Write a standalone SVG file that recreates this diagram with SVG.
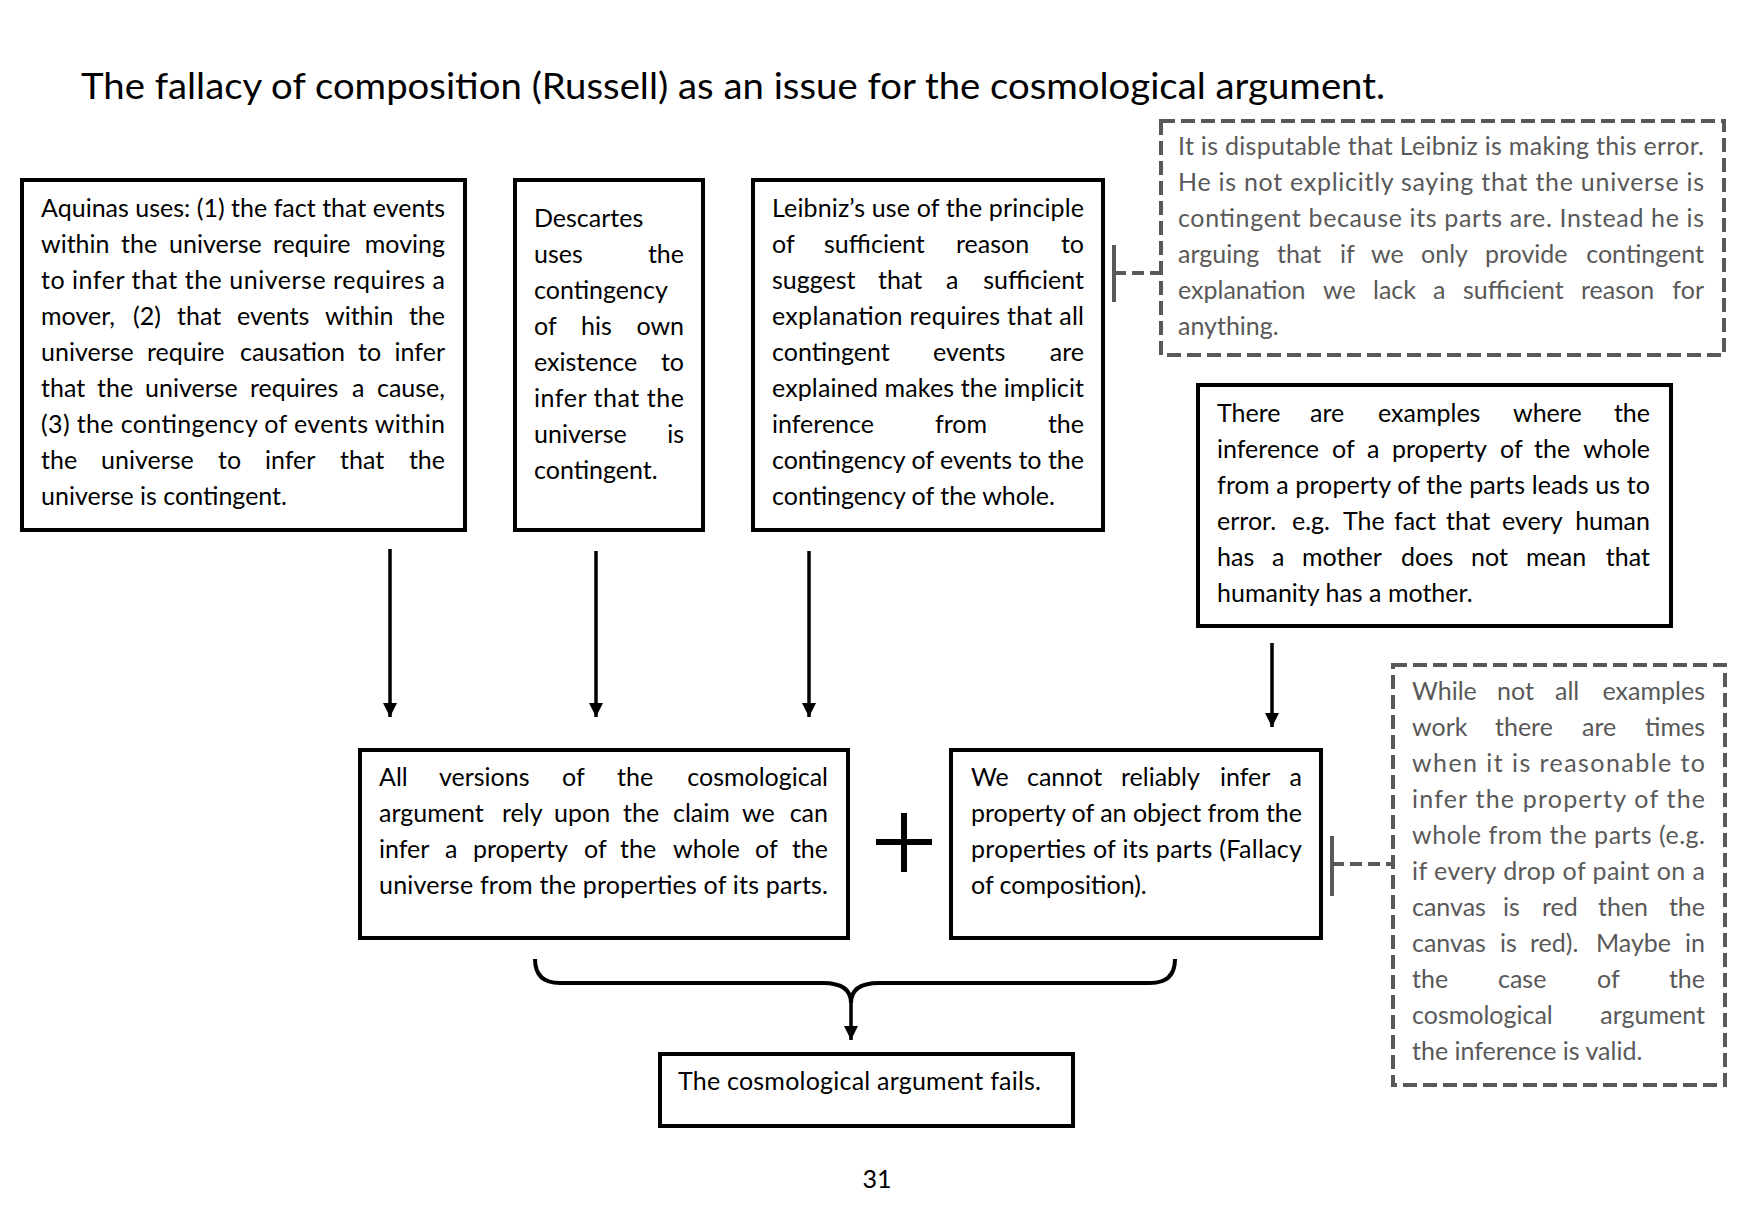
<svg xmlns="http://www.w3.org/2000/svg" width="1738" height="1218" viewBox="0 0 1738 1218">
<style>
.box{fill:#fff;stroke:#000;stroke-width:4}
.dbox{fill:#fff;stroke:#595959;stroke-width:4;stroke-dasharray:14 6}
.t{font-family:Lato,"Open Sans","Liberation Sans",sans-serif;font-size:25px;fill:#000}
.g{fill:#595959}
.e{text-anchor:end}
.title{font-family:Lato,"Open Sans","Liberation Sans",sans-serif;font-size:37px;fill:#000}
.arrow{stroke:#000;stroke-width:3.5;fill:none}
.bar{stroke:#595959;stroke-width:4;fill:none}
.dash{stroke:#595959;stroke-width:4;fill:none;stroke-dasharray:12 6}
</style>
<defs>
<marker id="ah" markerUnits="userSpaceOnUse" markerWidth="14" markerHeight="16" refX="14" refY="7" orient="auto">
<path d="M0,0 L14,7 L0,14 z" fill="#000"/>
</marker>
</defs>
<rect width="1738" height="1218" fill="#fff"/>

<text class="title" x="81" y="99" textLength="1304" lengthAdjust="spacingAndGlyphs">The fallacy of composition (Russell) as an issue for the cosmological argument.</text>

<g id="connectors">
<path class="arrow" d="M390 549 V717" marker-end="url(#ah)"/>
<path class="arrow" d="M596 551 V717" marker-end="url(#ah)"/>
<path class="arrow" d="M809 551 V717" marker-end="url(#ah)"/>
<path class="arrow" d="M1272 643 V727" marker-end="url(#ah)"/>
<path class="bar" d="M1114 245 V302"/>
<path class="dash" d="M1114 273 H1159"/>
<path class="bar" d="M1332 836 V896"/>
<path class="dash" d="M1332 864 H1392"/>
<path d="M876 842 H932 M904 813 V872" stroke="#000" stroke-width="6" fill="none"/>
<path d="M535 959 Q535 983 560 983 L823 983 Q851 983 851 1003 Q851 983 879 983 L1150 983 Q1175 983 1175 959" stroke="#000" stroke-width="4" fill="none"/>
<path class="arrow" d="M851 1003 V1040" marker-end="url(#ah)"/>
</g>

<g id="aquinas">
<rect class="box" x="22" y="180" width="443" height="350"/>
<text class="t" x="41" y="217" textLength="404" lengthAdjust="spacing">Aquinas uses: (1) the fact that events</text>
<text class="t" y="253"><tspan x="41">within</tspan><tspan x="121">the</tspan><tspan x="169">universe</tspan><tspan x="273">require</tspan><tspan class="e" x="445">moving</tspan></text>
<text class="t" x="41" y="289" textLength="404" lengthAdjust="spacing">to infer that the universe requires a</text>
<text class="t" y="325"><tspan x="41">mover,</tspan><tspan x="133">(2)</tspan><tspan x="177">that</tspan><tspan x="237">events</tspan><tspan x="325">within</tspan><tspan class="e" x="445">the</tspan></text>
<text class="t" y="361"><tspan x="41">universe</tspan><tspan x="147">require</tspan><tspan x="240">causation</tspan><tspan x="358">to</tspan><tspan class="e" x="445">infer</tspan></text>
<text class="t" y="397"><tspan x="41">that</tspan><tspan x="97">the</tspan><tspan x="145">universe</tspan><tspan x="250">requires</tspan><tspan x="352">a</tspan><tspan class="e" x="445">cause,</tspan></text>
<text class="t" x="41" y="433" textLength="404" lengthAdjust="spacing">(3) the contingency of events within</text>
<text class="t" y="469"><tspan x="41">the</tspan><tspan x="101">universe</tspan><tspan x="218">to</tspan><tspan x="265">infer</tspan><tspan x="340">that</tspan><tspan class="e" x="445">the</tspan></text>
<text class="t" x="41" y="505">universe is contingent.</text>
</g>

<g id="descartes">
<rect class="box" x="515" y="180" width="188" height="350"/>
<text class="t" x="534" y="227">Descartes</text>
<text class="t" y="263"><tspan x="534">uses</tspan><tspan class="e" x="684">the</tspan></text>
<text class="t" x="534" y="299">contingency</text>
<text class="t" y="335"><tspan x="534">of</tspan><tspan x="581">his</tspan><tspan class="e" x="684">own</tspan></text>
<text class="t" y="371"><tspan x="534">existence</tspan><tspan class="e" x="684">to</tspan></text>
<text class="t" x="534" y="407" textLength="150" lengthAdjust="spacing">infer that the</text>
<text class="t" y="443"><tspan x="534">universe</tspan><tspan class="e" x="684">is</tspan></text>
<text class="t" x="534" y="479">contingent.</text>
</g>

<g id="leibniz">
<rect class="box" x="753" y="180" width="350" height="350"/>
<text class="t" x="772" y="217" textLength="312" lengthAdjust="spacing">Leibniz’s use of the principle</text>
<text class="t" y="253"><tspan x="772">of</tspan><tspan x="824">sufficient</tspan><tspan x="956">reason</tspan><tspan class="e" x="1084">to</tspan></text>
<text class="t" y="289"><tspan x="772">suggest</tspan><tspan x="878">that</tspan><tspan x="946">a</tspan><tspan class="e" x="1084">sufficient</tspan></text>
<text class="t" x="772" y="325" textLength="312" lengthAdjust="spacing">explanation requires that all</text>
<text class="t" y="361"><tspan x="772">contingent</tspan><tspan x="933">events</tspan><tspan class="e" x="1084">are</tspan></text>
<text class="t" x="772" y="397" textLength="312" lengthAdjust="spacing">explained makes the implicit</text>
<text class="t" y="433"><tspan x="772">inference</tspan><tspan x="935">from</tspan><tspan class="e" x="1084">the</tspan></text>
<text class="t" x="772" y="469" textLength="312" lengthAdjust="spacing">contingency of events to the</text>
<text class="t" x="772" y="505">contingency of the whole.</text>
</g>

<g id="note-leibniz">
<rect class="dbox" x="1161" y="121" width="563" height="234"/>
<text class="t g" x="1178" y="155" textLength="526" lengthAdjust="spacing">It is disputable that Leibniz is making this error.</text>
<text class="t g" x="1178" y="191" textLength="526" lengthAdjust="spacing">He is not explicitly saying that the universe is</text>
<text class="t g" x="1178" y="227" textLength="526" lengthAdjust="spacing">contingent because its parts are. Instead he is</text>
<text class="t g" y="263"><tspan x="1178">arguing</tspan><tspan x="1277">that</tspan><tspan x="1340">if</tspan><tspan x="1371">we</tspan><tspan x="1421">only</tspan><tspan x="1485">provide</tspan><tspan class="e" x="1704">contingent</tspan></text>
<text class="t g" y="299"><tspan x="1178">explanation</tspan><tspan x="1323">we</tspan><tspan x="1373">lack</tspan><tspan x="1433">a</tspan><tspan x="1463">sufficient</tspan><tspan x="1581">reason</tspan><tspan class="e" x="1704">for</tspan></text>
<text class="t g" x="1178" y="335">anything.</text>
</g>

<g id="humanity">
<rect class="box" x="1198" y="385" width="473" height="241"/>
<text class="t" y="422"><tspan x="1217">There</tspan><tspan x="1310">are</tspan><tspan x="1378">examples</tspan><tspan x="1513">where</tspan><tspan class="e" x="1650">the</tspan></text>
<text class="t" y="458"><tspan x="1217">inference</tspan><tspan x="1332">of</tspan><tspan x="1367">a</tspan><tspan x="1392">property</tspan><tspan x="1500">of</tspan><tspan x="1534">the</tspan><tspan class="e" x="1650">whole</tspan></text>
<text class="t" x="1217" y="494" textLength="433" lengthAdjust="spacing">from a property of the parts leads us to</text>
<text class="t" y="530"><tspan x="1217">error.</tspan><tspan x="1292">e.g.</tspan><tspan x="1343">The</tspan><tspan x="1394">fact</tspan><tspan x="1446">that</tspan><tspan x="1502">every</tspan><tspan class="e" x="1650">human</tspan></text>
<text class="t" y="566"><tspan x="1217">has</tspan><tspan x="1272">a</tspan><tspan x="1302">mother</tspan><tspan x="1401">does</tspan><tspan x="1471">not</tspan><tspan x="1526">mean</tspan><tspan class="e" x="1650">that</tspan></text>
<text class="t" x="1217" y="602">humanity has a mother.</text>
</g>

<g id="all-versions">
<rect class="box" x="360" y="750" width="488" height="188"/>
<text class="t" y="786"><tspan x="379">All</tspan><tspan x="439">versions</tspan><tspan x="562">of</tspan><tspan x="617">the</tspan><tspan class="e" x="828">cosmological</tspan></text>
<text class="t" y="822"><tspan x="379">argument</tspan><tspan x="502">rely</tspan><tspan x="554">upon</tspan><tspan x="623">the</tspan><tspan x="673">claim</tspan><tspan x="742">we</tspan><tspan class="e" x="828">can</tspan></text>
<text class="t" y="858"><tspan x="379">infer</tspan><tspan x="445">a</tspan><tspan x="473">property</tspan><tspan x="584">of</tspan><tspan x="620">the</tspan><tspan x="673">whole</tspan><tspan x="755">of</tspan><tspan class="e" x="828">the</tspan></text>
<text class="t" x="379" y="894" textLength="449" lengthAdjust="spacing">universe from the properties of its parts.</text>
</g>

<g id="cannot-infer">
<rect class="box" x="951" y="750" width="370" height="188"/>
<text class="t" y="786"><tspan x="971">We</tspan><tspan x="1027">cannot</tspan><tspan x="1121">reliably</tspan><tspan x="1220">infer</tspan><tspan class="e" x="1302">a</tspan></text>
<text class="t" x="971" y="822" textLength="331" lengthAdjust="spacing">property of an object from the</text>
<text class="t" x="971" y="858" textLength="331" lengthAdjust="spacing">properties of its parts (Fallacy</text>
<text class="t" x="971" y="894">of composition).</text>
</g>

<g id="note-valid">
<rect class="dbox" x="1393" y="665" width="332" height="420"/>
<text class="t g" y="700"><tspan x="1412">While</tspan><tspan x="1497">not</tspan><tspan x="1555">all</tspan><tspan class="e" x="1705">examples</tspan></text>
<text class="t g" y="736"><tspan x="1412">work</tspan><tspan x="1495">there</tspan><tspan x="1582">are</tspan><tspan class="e" x="1705">times</tspan></text>
<text class="t g" x="1412" y="772" textLength="293" lengthAdjust="spacing">when it is reasonable to</text>
<text class="t g" x="1412" y="808" textLength="293" lengthAdjust="spacing">infer the property of the</text>
<text class="t g" x="1412" y="844" textLength="293" lengthAdjust="spacing">whole from the parts (e.g.</text>
<text class="t g" x="1412" y="880" textLength="293" lengthAdjust="spacing">if every drop of paint on a</text>
<text class="t g" y="916"><tspan x="1412">canvas</tspan><tspan x="1503">is</tspan><tspan x="1542">red</tspan><tspan x="1598">then</tspan><tspan class="e" x="1705">the</tspan></text>
<text class="t g" y="952"><tspan x="1412">canvas</tspan><tspan x="1500">is</tspan><tspan x="1530">red).</tspan><tspan x="1596">Maybe</tspan><tspan class="e" x="1705">in</tspan></text>
<text class="t g" y="988"><tspan x="1412">the</tspan><tspan x="1498">case</tspan><tspan x="1597">of</tspan><tspan class="e" x="1705">the</tspan></text>
<text class="t g" y="1024"><tspan x="1412">cosmological</tspan><tspan class="e" x="1705">argument</tspan></text>
<text class="t g" x="1412" y="1060">the inference is valid.</text>
</g>

<g id="conclusion">
<rect class="box" x="660" y="1054" width="413" height="72"/>
<text class="t" x="678" y="1090" textLength="363" lengthAdjust="spacing">The cosmological argument fails.</text>
</g>

<text class="t" x="877" y="1188" text-anchor="middle">31</text>
</svg>
